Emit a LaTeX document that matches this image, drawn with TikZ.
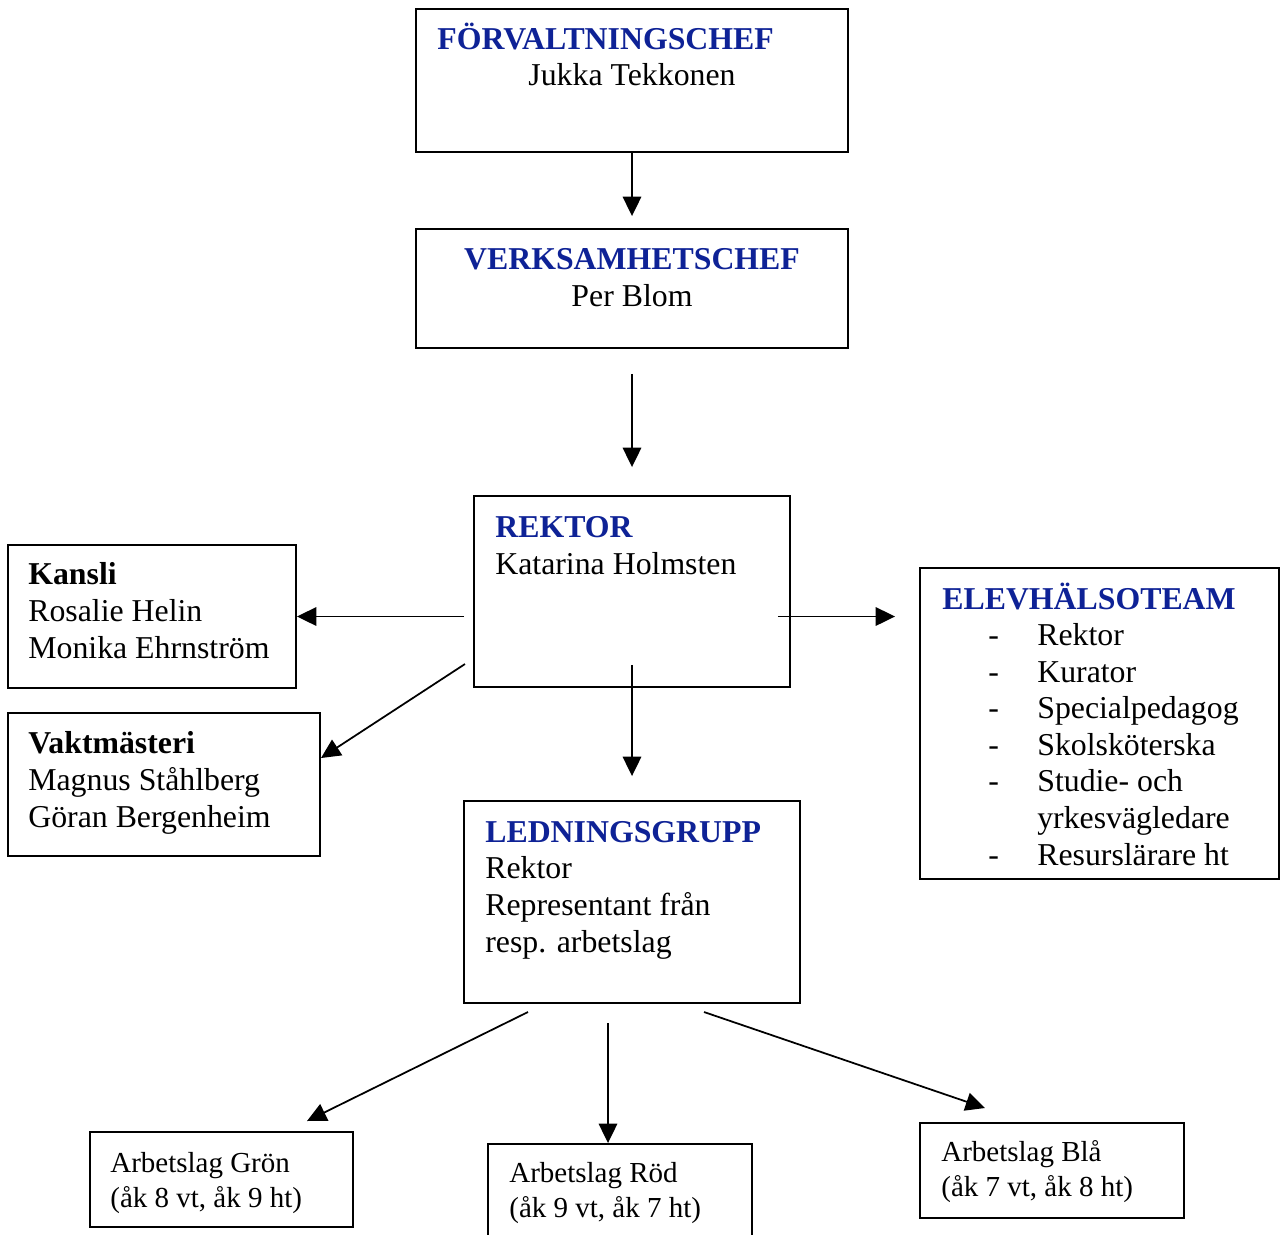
\documentclass[tikz,border=0pt]{standalone}
\usepackage{fontspec}
\setmainfont{Liberation Serif}
\usetikzlibrary{arrows.meta,fit}

\definecolor{titleblue}{RGB}{14,34,150}
\newcommand{\ttl}[1]{\textbf{\textcolor{titleblue}{#1}}}
\newcommand{\dashitem}[1]{\hspace*{0.92cm}\makebox[0.98cm][l]{-}#1}

\tikzset{
  box/.style={draw,line width=1.1pt,inner sep=0pt},
  txt/.style={anchor=base west,align=left,inner sep=0pt,font=\fontsize{18.1pt}{20.8pt}\selectfont},
  small/.style={txt,font=\fontsize{16.5pt}{19.8pt}\selectfont},
  arr/.style={line width=1pt,-{Triangle[length=11pt,width=10.5pt]}}
}

\begin{document}
\begin{tikzpicture}[x=0.02cm,y=-0.02cm]
\useasboundingbox (0,0) rectangle (1280,1234);
\clip (0,0) rectangle (1280,1234);

% boxes
\node[box,fit={(416,9) (848,152)}] (fc) {};
\node[box,fit={(416,229) (848,348)}] (vc) {};
\node[box,fit={(474,496) (790,687)}] (rek) {};
\node[box,fit={(8,545) (296,688)}] (kan) {};
\node[box,fit={(8,713) (320,856)}] (vakt) {};
\node[box,fit={(920,568) (1279,879)}] (eht) {};
\node[box,fit={(464,801) (800,1003)}] (led) {};
\node[box,fit={(90,1132) (353,1227)}] (gron) {};
\node[box,fit={(488,1144) (752,1260)}] (rod) {};
\node[box,fit={(920,1123) (1184,1218)}] (bla) {};

% texts (placed at the baseline of their last line)
\node[txt] (fc-t) at (437,49) {\ttl{FÖRVALTNINGSCHEF}};
\node[txt,anchor=base] (fc-n) at (632,85) {Jukka Tekkonen};
\node[txt,anchor=base,align=center] (vc-t) at (632,306) {\ttl{VERKSAMHETSCHEF}\\Per Blom};
\node[txt] (rek-t) at (495,574) {\ttl{REKTOR}\\Katarina Holmsten};
\node[txt] (kan-t) at (28,658) {\textbf{Kansli}\\Rosalie Helin\\Monika Ehrnström};
\node[txt] (vakt-t) at (28,827) {\textbf{Vaktmästeri}\\Magnus Ståhlberg\\Göran Bergenheim};
\node[txt] (eht-t) at (942,865) {\ttl{ELEVHÄLSOTEAM}\\
  \dashitem{Rektor}\\
  \dashitem{Kurator}\\
  \dashitem{Specialpedagog}\\
  \dashitem{Skolsköterska}\\
  \dashitem{Studie- och}\\
  \hspace*{1.9cm}yrkesvägledare\\
  \dashitem{Resurslärare ht}};
\node[txt] (led-t) at (485,952) {\ttl{LEDNINGSGRUPP}\\Rektor\\Representant från\\resp. arbetslag};
\node[small] (gron-t) at (110,1207) {Arbetslag Grön\\(åk 8 vt, åk 9 ht)};
\node[small] (rod-t) at (509,1217) {Arbetslag Röd\\(åk 9 vt, åk 7 ht)};
\node[small] (bla-t) at (941,1196) {Arbetslag Blå\\(åk 7 vt, åk 8 ht)};

% free ends
\coordinate (rek-sw) at (465,664);
\coordinate (vakt-ne) at (321,758);
\coordinate (led-s1) at (528,1012);
\coordinate (led-s2) at (608,1023);
\coordinate (led-s3) at (704,1012);
\coordinate (gron-ne) at (307,1121);
\coordinate (bla-nw) at (985,1108);

% arrows
\draw[arr,shorten >=0.24cm] (fc.south) -- (vc.north);
\draw[arr,shorten <=0.5cm,shorten >=0.56cm] (vc.south) -- (vc.south |- rek.north);
\draw[arr,shorten <=0.18cm] (rek.west |- kan.east) -- (kan.east);
\draw[arr,shorten <=-0.26cm,shorten >=0.48cm] (rek.east |- kan.east) -- (eht.west |- kan.east);
\draw[arr] (rek-sw) -- (vakt-ne);
\draw[arr,shorten <=-0.46cm,shorten >=0.48cm] (rek.south) -- (rek.south |- led.north);
\draw[arr] (led-s1) -- (gron-ne);
\draw[arr] (led-s2) -- (led-s2 |- rod.north);
\draw[arr] (led-s3) -- (bla-nw);
\end{tikzpicture}
\end{document}
